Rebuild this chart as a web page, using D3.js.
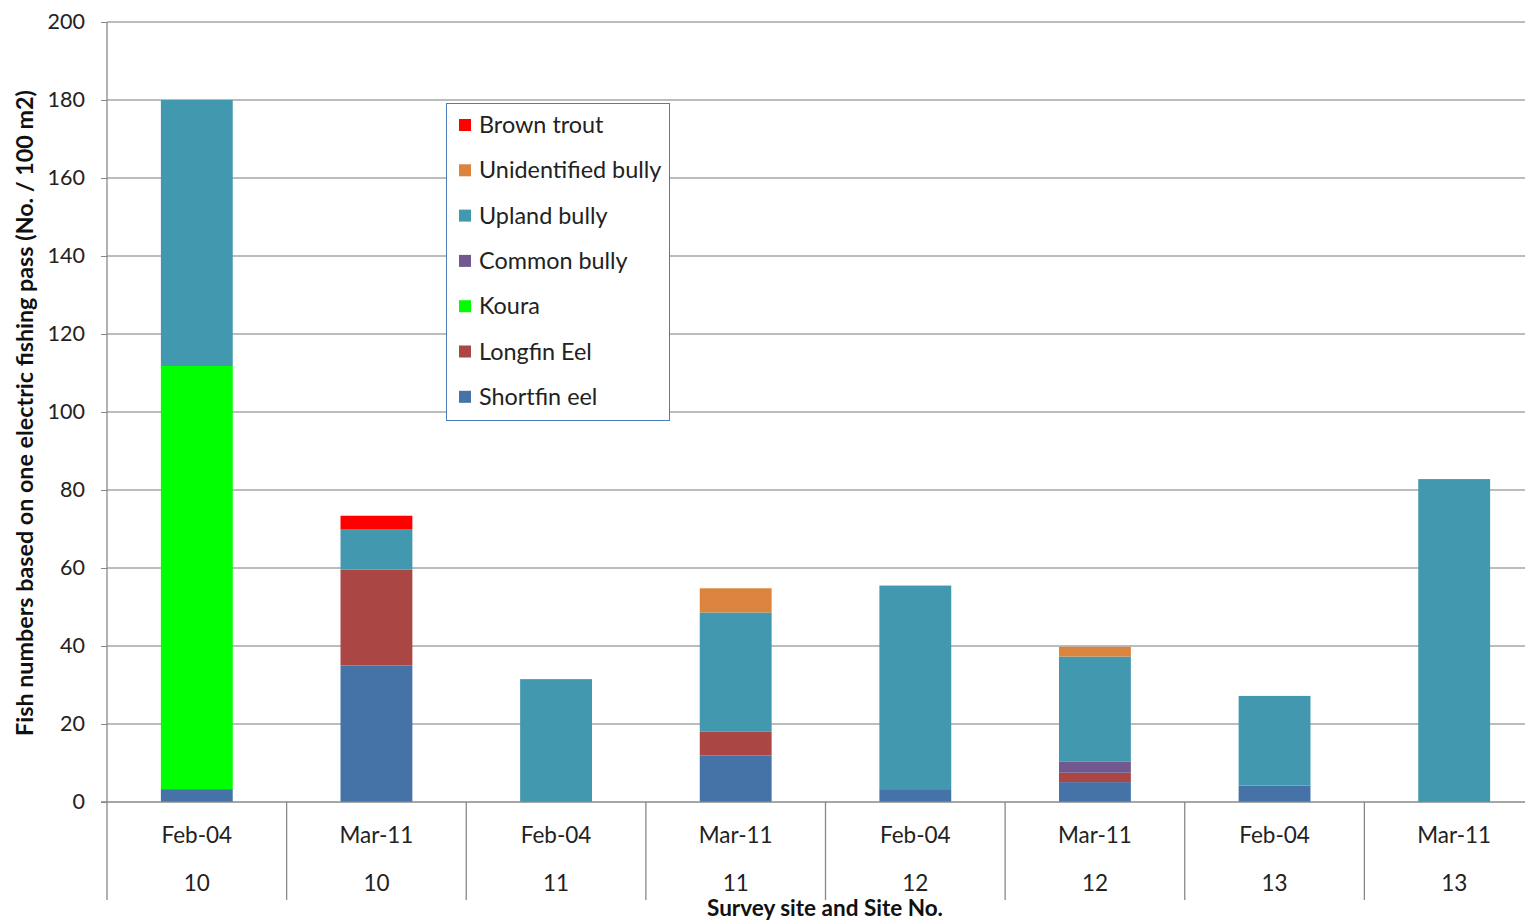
<!DOCTYPE html>
<html><head><meta charset="utf-8">
<script src="https://cdn.jsdelivr.net/npm/d3@7"></script>
<style>body{margin:0;background:#fff}svg{display:block}text{font-family:Lato,"Open Sans",sans-serif}</style>
</head><body><svg id="c" width="1525" height="922"></svg>
<script>
const dates = ["Feb-04","Mar-11","Feb-04","Mar-11","Feb-04","Mar-11","Feb-04","Mar-11"];
const sites = ["10","10","11","11","12","12","13","13"];
const shortfinEel = [3.3, 35, 0, 11.9, 3.3, 5.1, 4.2, 0];
const longfinEel = [0, 24.6, 0, 6.1, 0, 2.4, 0, 0];
const koura = [108.5, 0, 0, 0, 0, 0, 0, 0];
const commonBully = [0, 0, 0, 0, 0, 2.8, 0, 0];
const uplandBully = [68.2, 10.4, 31.5, 30.6, 52.2, 27, 23, 82.8];
const unidentifiedBully = [0, 0, 0, 6.2, 0, 2.5, 0, 0];
const brownTrout = [0, 3.4, 0, 0, 0, 0, 0, 0];
const yTicks = [0,20,40,60,80,100,120,140,160,180,200];

const series = [
  {name:"Shortfin eel", values:shortfinEel, color:"#4572A7"},
  {name:"Longfin Eel", values:longfinEel, color:"#AA4643"},
  {name:"Koura", values:koura, color:"#00FF00"},
  {name:"Common bully", values:commonBully, color:"#71588F"},
  {name:"Upland bully", values:uplandBully, color:"#4198AF"},
  {name:"Unidentified bully", values:unidentifiedBully, color:"#DB843D"},
  {name:"Brown trout", values:brownTrout, color:"#FF0000"}
];

const svg = d3.select("#c");
const L=107, R=1544, T=22, B=802;
const idx = d3.range(dates.length);
const x = d3.scaleBand().domain(idx).range([L,R]).paddingInner(0.6).paddingOuter(0.3);
const y = d3.scaleLinear().domain([0,200]).range([B,T]);

// gridlines
svg.append("g").selectAll("line").data(yTicks.filter(d=>d>0)).join("line")
  .attr("x1",L).attr("x2",1525).attr("y1",d=>y(d)).attr("y2",d=>y(d))
  .attr("stroke","#a6a6a6").attr("stroke-width",1.3);

// stacked bars
const rows = idx.map(i=>{const o={i}; series.forEach(s=>o[s.name]=s.values[i]); return o;});
const stack = d3.stack().keys(series.map(s=>s.name))(rows);
stack.forEach((layer,k)=>{
  svg.append("g").selectAll("rect").data(layer.filter(d=>d[1]-d[0]>0)).join("rect")
    .attr("x",d=>x(d.data.i)).attr("width",x.bandwidth())
    .attr("y",d=>y(d[1])).attr("height",d=>y(d[0])-y(d[1]))
    .attr("fill",series[k].color);
});

// y axis
const yAxis = d3.axisLeft(y).tickValues(yTicks).tickSize(6).tickPadding(16);
const ga = svg.append("g").attr("transform",`translate(${L},0)`).call(yAxis);
ga.select(".domain").remove();
ga.selectAll("line").attr("stroke","#888");
ga.selectAll("text").attr("font-size",21.5).attr("fill","#222");
svg.append("line").attr("x1",L).attr("x2",L).attr("y1",T).attr("y2",900).attr("stroke","#888").attr("stroke-width",1.3);

// x axis base line and dividers
svg.append("line").attr("x1",L-6).attr("x2",1525).attr("y1",B).attr("y2",B).attr("stroke","#888").attr("stroke-width",1.3);
const bounds = d3.range(1,dates.length).map(i=>x(i)-x.step()*x.paddingInner()/2);
svg.append("g").selectAll("line").data(bounds).join("line")
  .attr("x1",d=>d).attr("x2",d=>d).attr("y1",B).attr("y2",900).attr("stroke","#888").attr("stroke-width",1.3);

const cx = i=>x(i)+x.bandwidth()/2;
svg.append("g").selectAll("text").data(idx).join("text")
  .attr("x",cx).attr("y",843).attr("text-anchor","middle").attr("font-size",22.5).attr("fill","#222")
  .text(i=>dates[i]);
svg.append("g").selectAll("text").data(idx).join("text")
  .attr("x",cx).attr("y",891).attr("text-anchor","middle").attr("font-size",22.5).attr("fill","#222")
  .text(i=>sites[i]);

svg.append("text").attr("x",825).attr("y",916).attr("text-anchor","middle")
  .attr("font-size",22.5).attr("font-weight","bold").attr("fill","#111").text("Survey site and Site No.");
svg.append("text").attr("transform","translate(33,413) rotate(-90)").attr("text-anchor","middle")
  .attr("font-size",23.3).attr("font-weight","bold").attr("fill","#111")
  .text("Fish numbers based on one electric fishing pass (No. / 100 m2)");

// legend
const lg = svg.append("g");
lg.append("rect").attr("x",446.5).attr("y",103.5).attr("width",223).attr("height",317)
  .attr("fill","#fff").attr("stroke","#4a7ebb").attr("stroke-width",1);
const legendOrder = series.slice().reverse();
const li = lg.selectAll("g.it").data(legendOrder).join("g").attr("class","it")
  .attr("transform",(d,i)=>`translate(459,${125+i*45.3})`);
li.append("rect").attr("x",0).attr("y",-6).attr("width",12).attr("height",12).attr("fill",d=>d.color);
li.append("text").attr("x",20).attr("y",8).attr("font-size",23.4).attr("fill","#222").text(d=>d.name);
</script></body></html>
